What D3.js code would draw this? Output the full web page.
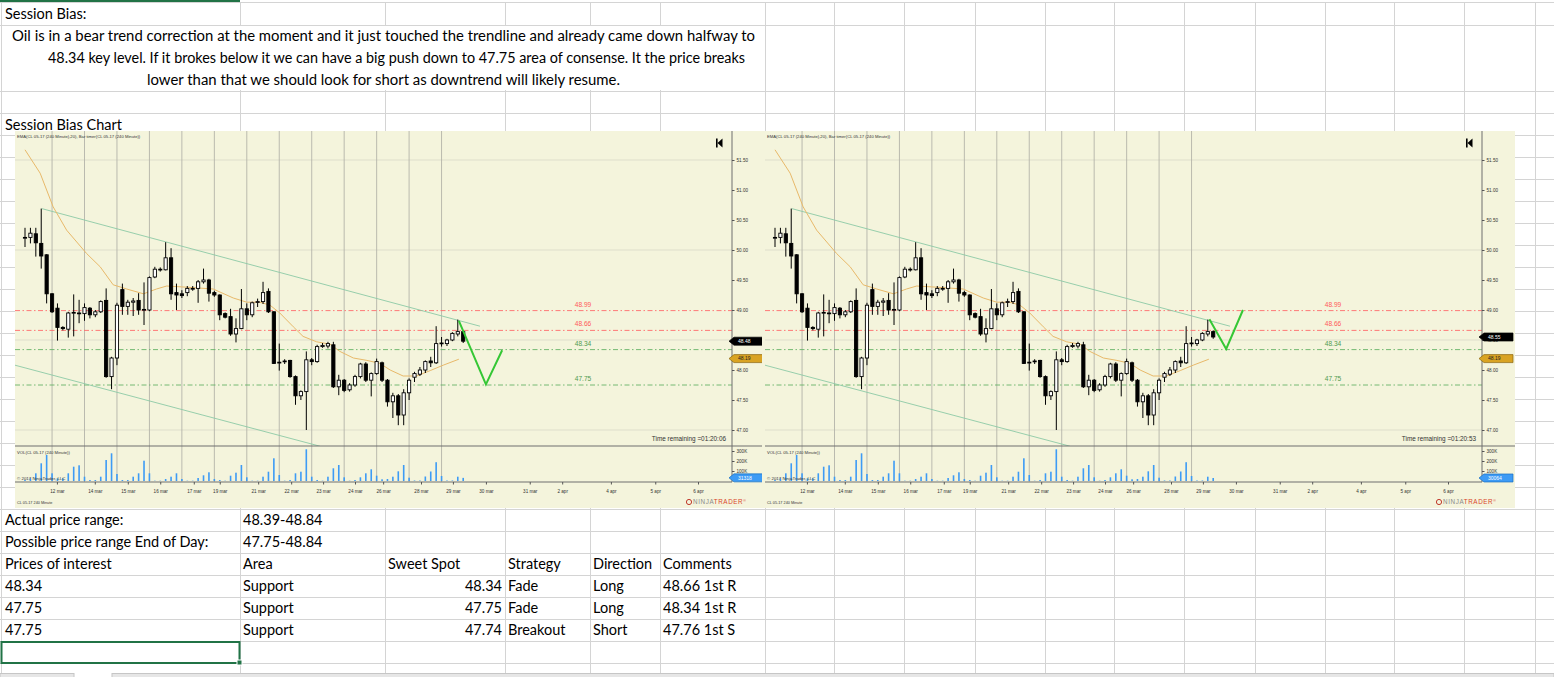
<!DOCTYPE html>
<html>
<head>
<meta charset="utf-8">
<script src="https://cdn.jsdelivr.net/npm/d3@7"></script>
<style>
  body { margin: 0; background: #fff; }
  svg { display: block; }
  .cell { font-family: Lato, "Open Sans", sans-serif; font-size: 14.5px; fill: #000; }
  .nt { font-family: "Liberation Sans", Arial, sans-serif; }
</style>
</head>
<body>
<svg id="sheet" width="1554" height="677"></svg>
<script>
// 1: DATA
// candles: [open, high, low, close], CL 05-17 240 minute bars
const candles = [
  [50.20,50.37,50.05,50.21],[50.21,50.37,50.11,50.28],[50.27,50.37,49.89,50.12],[50.11,50.69,49.69,49.90],
  [49.92,49.93,49.11,49.27],[49.27,49.28,48.95,48.97],[49.03,49.11,48.49,48.71],[48.71,48.73,48.66,48.69],
  [48.68,48.97,48.54,48.95],[48.95,49.26,48.56,48.96],[48.94,49.17,48.78,48.95],[48.94,49.11,48.82,49.04],
  [49.03,49.05,48.86,48.92],[48.92,49.00,48.88,48.97],[48.97,49.16,48.95,49.14],[49.16,49.36,47.87,47.89],
  [47.89,48.22,47.68,48.20],[48.20,49.12,48.08,49.08],[49.34,49.44,48.92,49.06],[49.06,49.17,48.92,49.13],
  [49.13,49.20,48.90,49.15],[49.16,49.28,48.92,49.00],[49.00,49.46,48.75,49.01],[49.00,49.56,48.98,49.54],
  [49.55,49.72,49.53,49.68],[49.67,49.71,49.64,49.68],[49.67,50.13,49.66,49.87],[49.87,50.03,49.17,49.27],
  [49.29,49.44,49.00,49.25],[49.27,49.33,49.20,49.24],[49.29,49.40,49.23,49.36],[49.36,49.40,49.32,49.36],
  [49.36,49.50,49.12,49.47],[49.47,49.69,49.44,49.50],[49.50,49.52,49.14,49.28],[49.29,49.32,49.22,49.25],
  [49.25,49.26,48.83,48.92],[48.94,48.96,48.86,48.88],[48.89,49.02,48.57,48.60],[48.60,48.86,48.46,48.69],
  [48.69,49.35,48.68,49.02],[49.02,49.11,48.83,48.92],[48.92,49.14,48.88,49.12],[49.13,49.19,49.05,49.14],
  [49.14,49.47,49.10,49.29],[49.31,49.36,48.95,48.97],[48.97,48.98,48.10,48.11],[48.12,48.44,47.99,48.13],
  [48.14,48.18,48.10,48.15],[48.16,48.17,47.87,47.89],[47.89,47.91,47.42,47.57],[47.57,47.66,47.50,47.64],
  [47.64,48.31,47.00,48.17],[48.17,48.20,48.08,48.14],[48.14,48.42,48.12,48.39],[48.39,48.45,48.37,48.41],
  [48.40,48.47,48.36,48.44],[48.42,48.47,47.70,47.72],[47.72,47.92,47.58,47.83],[47.83,47.85,47.63,47.66],
  [47.67,47.78,47.64,47.75],[47.75,47.92,47.72,47.89],[47.89,48.12,47.86,48.10],[48.10,48.13,47.80,47.83],
  [47.83,47.96,47.56,47.94],[47.94,48.19,47.92,48.14],[48.12,48.14,47.80,47.83],[47.83,47.85,47.39,47.47],
  [47.47,47.62,47.20,47.57],[47.57,47.60,47.08,47.25],[47.25,47.68,47.08,47.62],[47.62,47.86,47.50,47.83],
  [47.88,47.97,47.80,47.94],[47.93,48.05,47.90,48.00],[48.00,48.16,47.95,48.14],[48.15,48.22,48.05,48.12],
  [48.12,48.73,48.10,48.44],[48.44,48.55,48.39,48.45],[48.44,48.52,48.40,48.50],[48.50,48.63,48.48,48.61],
  [48.60,48.84,48.56,48.64],[48.64,48.66,48.45,48.48]
];
// last bar as it looked in the second (earlier) screenshot
const lastCandleRight = [48.64, 48.66, 48.52, 48.55];

// volume per bar, thousands of contracts
const volumes = [10,27,77,177,260,77,27,27,77,143,157,43,10,10,43,210,277,70,10,10,43,77,203,77,3,
  3,20,43,77,20,3,3,30,57,87,20,10,3,53,83,160,37,3,3,43,93,227,60,3,10,77,93,317,43,10,3,43,127,160,37,
  3,10,37,77,117,53,17,20,43,97,160,33,5,5,45,95,188,50,5,5,43,31.318];
const lastVolRight = 30.064;

// EMA(20): [bar, price]
const emaPoints = [[0,51.67],[2.8,51.28],[5.2,50.72],[7.7,50.33],[11.4,49.94],[13.9,49.72],[16.3,49.42],
  [18.8,49.35],[21.9,49.27],[24.3,49.35],[26.2,49.40],[29.9,49.38],[34.8,49.35],[38.5,49.20],[41,49.13],
  [43.4,49.13],[45.3,49.08],[47.1,48.95],[49.6,48.72],[51.4,48.56],[53.9,48.47],[56.4,48.43],[58.2,48.31],
  [60.7,48.20],[63.2,48.16],[65.6,48.11],[67.5,48.00],[69.9,47.90],[72.4,47.90],[74.9,47.99],[77.3,48.08],
  [80.2,48.18]];

// channel trendlines: [bar, price]
const trendUpper = [[3.1,50.69],[84.1,48.73]];
const trendLower = [[-1.85,48.08],[54.5,46.73]];

// projected paths drawn by hand
const projLeft = [[80.2,48.82],[85.2,47.76],[88.2,48.33]];
const projRight = [[80.3,48.845],[83.4,48.35],[86.5,49.00]];

const levelValues = [48.99, 48.66, 48.34, 47.75];
const levelKinds = ["res", "res", "sup", "sup"];

const priceTicks = [47.0, 47.5, 48.0, 48.5, 49.0, 49.5, 50.0, 50.5, 51.0, 51.5];
const priceGrid = [47.0, 48.5, 50.0, 51.5];
const volTicks = [100, 200, 300];
const sessionBreaks = [5, 11, 17, 23, 29, 35, 41, 47, 53, 59, 65, 71, 77];
const dateTicks = [5.9,12.9,19.0,25.0,31.2,36.0,43.1,49.2,55.1,61.0,66.2,73.2,79.1,85.2,93.3,99.3,108.3,116.5,124.4];
const dateLabels = ["12 mar","14 mar","15 mar","16 mar","17 mar","19 mar","21 mar","22 mar","23 mar","24 mar",
  "26 mar","28 mar","29 mar","30 mar","31 mar","2 apr","4 apr","5 apr","6 apr"];
const barTimerPrice = 48.19;

// spreadsheet text
const biasLines = [
  "Oil is in a bear trend correction at the moment and it just touched the trendline and already came down halfway to",
  "48.34 key level. If it brokes below it we can have a big push down to 47.75 area of consense. It the price breaks",
  "lower than that we should look for short as downtrend will likely resume."
];
const infoLabels = ["Actual price range:", "Possible price range End of Day:"];
const infoValues = ["48.39-48.84", "47.75-48.84"];
const headers = ["Prices of interest", "Area", "Sweet Spot", "Strategy", "Direction", "Comments"];
const pricesOfInterest = ["48.34", "47.75", "47.75"];
const areas = ["Support", "Support", "Support"];
const sweetSpots = [48.34, 47.75, 47.74];
const strategies = ["Fade", "Fade", "Breakout"];
const directions = ["Long", "Long", "Short"];
const comments = ["48.66 1st R", "48.34 1st R", "47.76 1st S"];

// 2: SHEET GRID
const svg = d3.select("#sheet");
const W = 1554, H = 677;
const colEdges = [1, 240, 385, 505, 590, 660, 765, 834, 904, 975, 1045, 1114, 1184, 1255, 1325, 1394, 1464, 1535];
const rowEdges = [2.5, 25, 91].concat(d3.range(113, 664, 22));
const gridColor = "#d4d4d4";

svg.append("rect").attr("width", W).attr("height", H).attr("fill", "#fff");
const grid = svg.append("g").attr("shape-rendering", "crispEdges");
grid.selectAll(".h").data(rowEdges).enter().append("line")
  .attr("x1", 0).attr("x2", W).attr("y1", d => d).attr("y2", d => d)
  .attr("stroke", gridColor);
grid.selectAll(".v").data(colEdges).enter().append("line")
  .attr("x1", d => d).attr("x2", d => d)
  .attr("y1", (d, i) => i === 0 ? 0 : 2.5).attr("y2", 673)
  .attr("stroke", gridColor);
// merged A2:F2 hides inner column lines
svg.append("rect").attr("x", 2).attr("y", 26).attr("width", 762).attr("height", 64).attr("fill", "#fff");
svg.append("rect").attr("x", 0).attr("y", 0).attr("width", 240).attr("height", 2).attr("fill", "#217346");

// 3: SHEET TEXT
const cellText = (x, y, t, anchor) => svg.append("text").attr("class", "cell")
  .attr("x", x).attr("y", y).attr("text-anchor", anchor || "start").text(t);

cellText(5, 19, "Session Bias:");
const biasX = [12, 48, 147], biasLen = [743, 697, 473];
biasLines.forEach((t, i) => {
  cellText(biasX[i], 41 + i * 22, t)
    .attr("textLength", biasLen[i]).attr("lengthAdjust", "spacingAndGlyphs");
});
cellText(5, 130, "Session Bias Chart");

const tableTop = 509;
infoLabels.forEach((t, i) => {
  cellText(5, tableTop + 16 + i * 22, t);
  cellText(243, tableTop + 16 + i * 22, infoValues[i]);
});
const hdrX = [5, 243, 388, 508, 593, 663];
headers.forEach((t, i) => cellText(hdrX[i], tableTop + 16 + 44, t));
pricesOfInterest.forEach((p, i) => {
  const y = tableTop + 16 + 66 + i * 22;
  cellText(5, y, p);
  cellText(243, y, areas[i]);
  cellText(502, y, d3.format(".2f")(sweetSpots[i]), "end");
  cellText(508, y, strategies[i]);
  cellText(593, y, directions[i]);
  cellText(663, y, comments[i]);
});
// selected cell
svg.append("rect").attr("x", 1.5).attr("y", 642).attr("width", 238).attr("height", 21)
  .attr("fill", "none").attr("stroke", "#217346").attr("stroke-width", 2);
svg.append("rect").attr("x", 237).attr("y", 660).attr("width", 5).attr("height", 5)
  .attr("fill", "#217346").attr("stroke", "#fff").attr("stroke-width", 1);
// sheet tab bar
svg.append("rect").attr("x", 0).attr("y", 673.5).attr("width", 74).attr("height", 4)
  .attr("fill", "#e6e6e6").attr("stroke", "#c6c6c6");
svg.append("rect").attr("x", 112).attr("y", 673.5).attr("width", W - 112).attr("height", 4)
  .attr("fill", "#e6e6e6").attr("stroke", "#c6c6c6");

// 4: CHARTS
function drawChart(cfg) {
  const ox = cfg.shift;
  const left = 15 + ox, axisX = 732 + ox, top = 131, sep = 446, xAxisY = 482, bottom = 508;
  const bars = candles.slice(0, -1).concat([cfg.lastCandle]);
  const vols = volumes.slice(0, -1).concat([cfg.lastVol]);
  const g = svg.append("g").attr("class", "nt");

  const x = d3.scaleLinear().domain([0, 81]).range([25 + ox, 463.2 + ox]);
  const y = d3.scaleLinear().domain([47, 51.5]).range([430, 160]);
  const v = d3.scaleLinear().domain([0, 300]).range([481, 451]);

  g.append("rect").attr("x", cfg.bgLeft).attr("y", top)
    .attr("width", cfg.bgRight - cfg.bgLeft).attr("height", bottom - top).attr("fill", "#f4f4dc");

  const clipId = "clip-" + cfg.id;
  g.append("clipPath").attr("id", clipId).append("rect")
    .attr("x", left).attr("y", top).attr("width", axisX - left).attr("height", sep - top);

  // gridlines
  g.selectAll(".pg").data(priceGrid).enter().append("line")
    .attr("x1", left).attr("x2", axisX).attr("y1", d => y(d)).attr("y2", d => y(d))
    .attr("stroke", "#dedecb");
  g.selectAll(".sb").data(sessionBreaks).enter().append("line")
    .attr("x1", d => x(d)).attr("x2", d => x(d)).attr("y1", top).attr("y2", xAxisY)
    .attr("stroke", "#b3b3a9").attr("stroke-width", 0.9);

  // key levels
  const lvlColor = k => k === "res" ? "#ff6b6b" : "#66b266";
  const lvlText = k => k === "res" ? "#ff5a5a" : "#4f9a4f";
  g.selectAll(".lv").data(levelValues).enter().append("line")
    .attr("x1", left).attr("x2", axisX).attr("y1", d => y(d)).attr("y2", d => y(d))
    .attr("stroke", (d, i) => lvlColor(levelKinds[i])).attr("stroke-width", 0.9)
    .attr("stroke-dasharray", "5,2.5,1.5,2.5");
  g.selectAll(".lt").data(levelValues).enter().append("text")
    .attr("x", 583 + ox).attr("y", d => y(d) - 4).attr("text-anchor", "middle")
    .attr("font-size", 6.6).attr("fill", (d, i) => lvlText(levelKinds[i]))
    .text(d => d3.format(".2f")(d));

  const plot = g.append("g").attr("clip-path", `url(#${clipId})`);
  const line = d3.line().x(d => x(d[0])).y(d => y(d[1]));

  plot.append("path").attr("d", line(trendUpper)).attr("fill", "none")
    .attr("stroke", "#8ccaa6").attr("stroke-width", 0.9);
  plot.append("path").attr("d", line(trendLower)).attr("fill", "none")
    .attr("stroke", "#8ccaa6").attr("stroke-width", 0.9);
  plot.append("path").attr("d", line(emaPoints)).attr("fill", "none")
    .attr("stroke", "#e8b96a").attr("stroke-width", 1);

  // candles
  const cg = plot.selectAll(".candle").data(bars).enter().append("g");
  cg.append("line")
    .attr("x1", (d, i) => x(i)).attr("x2", (d, i) => x(i))
    .attr("y1", d => y(d[1])).attr("y2", d => y(d[2]))
    .attr("stroke", "#000").attr("stroke-width", 1);
  cg.append("rect")
    .attr("x", (d, i) => x(i) - 1.6).attr("width", 3.2)
    .attr("y", d => y(Math.max(d[0], d[3])))
    .attr("height", d => Math.max(0.8, Math.abs(y(d[0]) - y(d[3]))))
    .attr("fill", d => d[3] >= d[0] ? "#fff" : "#000")
    .attr("stroke", "#000").attr("stroke-width", 0.9);

  plot.append("path").attr("d", line(cfg.proj)).attr("fill", "none")
    .attr("stroke", "#35c735").attr("stroke-width", 2).attr("stroke-linejoin", "miter");

  // volume panel
  g.selectAll(".vb").data(vols).enter().append("rect")
    .attr("x", (d, i) => x(i) - 0.8).attr("width", 1.6)
    .attr("y", d => v(d)).attr("height", d => v(0) - v(d))
    .attr("fill", "#3d9bf5");

  // frame lines
  g.append("line").attr("x1", left).attr("x2", cfg.bgRight).attr("y1", sep).attr("y2", sep)
    .attr("stroke", "#6e6e6e").attr("stroke-width", 1.2);
  g.append("line").attr("x1", axisX).attr("x2", axisX).attr("y1", top).attr("y2", xAxisY)
    .attr("stroke", "#6e6e6e").attr("stroke-width", 1);
  g.append("line").attr("x1", left).attr("x2", axisX).attr("y1", xAxisY).attr("y2", xAxisY)
    .attr("stroke", "#6e6e6e").attr("stroke-width", 1);

  // axes
  const styleAxis = sel => {
    sel.select(".domain").remove();
    sel.selectAll("line").attr("stroke", "#555");
    sel.selectAll("text").attr("font-size", 4.6).attr("fill", "#333")
      .attr("font-family", "'Liberation Sans', Arial, sans-serif");
  };
  g.append("g").attr("transform", `translate(${axisX},0)`)
    .call(d3.axisRight(y).tickValues(priceTicks).tickSize(2.5).tickPadding(2).tickFormat(d3.format(".2f")))
    .call(styleAxis);
  g.append("g").attr("transform", `translate(${axisX},0)`)
    .call(d3.axisRight(v).tickValues(volTicks).tickSize(2.5).tickPadding(2).tickFormat(d => d + "K"))
    .call(styleAxis);
  g.append("g").attr("transform", `translate(0,${xAxisY})`)
    .call(d3.axisBottom(x).tickValues(dateTicks).tickSize(2.5).tickPadding(5)
      .tickFormat((d, i) => dateLabels[i]))
    .call(styleAxis);

  // flags on the price / volume scale
  const flag = (yy, label, fill, stroke, color) => {
    const fg = g.append("g");
    fg.append("path")
      .attr("d", `M${axisX - 3},${yy} L${axisX + 2},${yy - 4} L${axisX + 31},${yy - 4} L${axisX + 31},${yy + 4} L${axisX + 2},${yy + 4} Z`)
      .attr("fill", fill).attr("stroke", stroke).attr("stroke-width", 0.7);
    fg.append("text").attr("x", axisX + 6).attr("y", yy + 1.8)
      .attr("font-size", 5).attr("fill", color).text(label);
  };
  flag(y(cfg.lastCandle[3]), d3.format(".2f")(cfg.lastCandle[3]), "#000", "#000", "#fff");
  flag(y(barTimerPrice), d3.format(".2f")(barTimerPrice), "#d9a323", "#8a6410", "#222");
  flag(v(cfg.lastVol), d3.format("d")(cfg.lastVol * 1000), "#3d9bf5", "#1a6fc0", "#fff");

  // chart texts
  g.append("text").attr("x", left + 2).attr("y", 138).attr("font-size", 4.2).attr("fill", "#333")
    .text("EMA(CL 05-17 (240 Minute),20), Bar timer(CL 05-17 (240 Minute))");
  g.append("text").attr("x", left + 2).attr("y", 454).attr("font-size", 4.2).attr("fill", "#333")
    .text("VOL(CL 05-17 (240 Minute))");
  g.append("text").attr("x", left + 2).attr("y", 480).attr("font-size", 4.4).attr("fill", "#333")
    .text("© 2017 NinjaTrader, LLC");
  g.append("text").attr("x", left + 2).attr("y", 504).attr("font-size", 3.8).attr("fill", "#333")
    .text("CL 05-17 240 Minute");
  g.append("text").attr("x", axisX - 6).attr("y", 440.5).attr("text-anchor", "end")
    .attr("font-size", 6.4).attr("fill", "#333").text("Time remaining =" + cfg.timeLeft);

  // scroll-to-end icon
  g.append("rect").attr("x", 716 + ox).attr("y", 138.5).attr("width", 1.6).attr("height", 9).attr("fill", "#000");
  g.append("path").attr("d", `M${717.5 + ox},143 L${722.5 + ox},138.5 L${722.5 + ox},147.5 Z`).attr("fill", "#000");

  // logo
  const lg = g.append("g");
  lg.append("circle").attr("cx", 689 + ox).attr("cy", 502).attr("r", 2.6)
    .attr("fill", "none").attr("stroke", "#c0392b").attr("stroke-width", 1);
  const logo = lg.append("text").attr("x", 693 + ox).attr("y", 504.3).attr("font-size", 6.3)
    .attr("letter-spacing", 0.6);
  logo.append("tspan").attr("fill", "#8a8a8a").text("NINJA");
  logo.append("tspan").attr("fill", "#d9462b").text("TRADER");
  logo.append("tspan").attr("fill", "#d9462b").attr("font-size", 3.5).attr("dy", -2).text("®");
}

drawChart({ id: "a", shift: 0, bgLeft: 15, bgRight: 762, lastCandle: candles[candles.length - 1],
  lastVol: volumes[volumes.length - 1], proj: projLeft, timeLeft: "01:20:06" });
drawChart({ id: "b", shift: 750, bgLeft: 762, bgRight: 1515, lastCandle: lastCandleRight,
  lastVol: lastVolRight, proj: projRight, timeLeft: "01:20:53" });
</script>
</body>
</html>
